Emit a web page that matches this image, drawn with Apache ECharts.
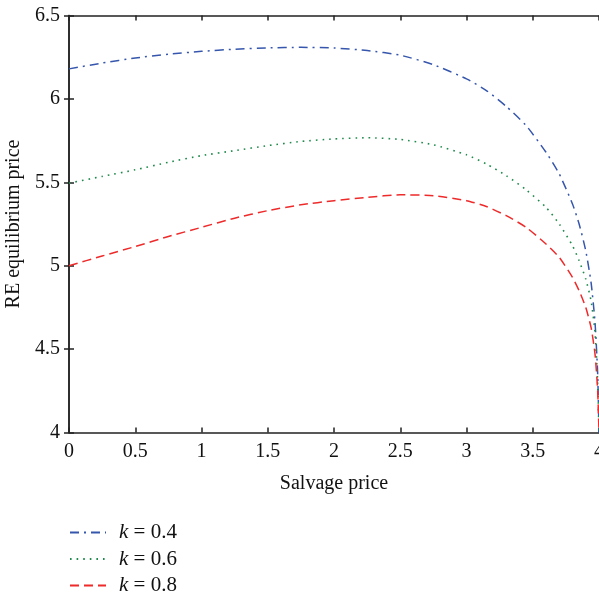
<!DOCTYPE html>
<html>
<head>
<meta charset="utf-8">
<script src="https://cdn.jsdelivr.net/npm/echarts@6/dist/echarts.min.js"></script>
<style>
html,body{margin:0;padding:0;background:#fff;}
#chart{width:599px;height:594px;}
</style>
</head>
<body>
<div id="chart"></div>
<script>
const xs = [0, 0.25, 0.5, 0.75, 1, 1.25, 1.5, 1.75, 2, 2.25, 2.5, 2.75, 3, 3.15, 3.3, 3.45, 3.6, 3.7, 3.8, 3.85, 3.9, 3.94, 3.97, 3.99, 4];
const k04 = [6.18, 6.215, 6.245, 6.268, 6.285, 6.298, 6.306, 6.309, 6.305, 6.29, 6.262, 6.205, 6.12, 6.05, 5.955, 5.84, 5.68, 5.55, 5.37, 5.25, 5.09, 4.9, 4.66, 4.35, 4.0];
const k06 = [5.495, 5.535, 5.575, 5.62, 5.66, 5.69, 5.72, 5.745, 5.76, 5.767, 5.757, 5.725, 5.665, 5.61, 5.54, 5.455, 5.35, 5.25, 5.12, 5.03, 4.92, 4.79, 4.6, 4.3, 4.0];
const k08 = [5.0, 5.058, 5.115, 5.175, 5.23, 5.285, 5.33, 5.365, 5.39, 5.41, 5.425, 5.42, 5.39, 5.355, 5.3, 5.23, 5.13, 5.05, 4.93, 4.85, 4.75, 4.63, 4.47, 4.25, 4.0];
const seriesNames = ['k = 0.4', 'k = 0.6', 'k = 0.8'];
const xTicks = ['0', '0.5', '1', '1.5', '2', '2.5', '3', '3.5', '4'];
const yTicks = ['4', '4.5', '5', '5.5', '6', '6.5'];

const FONT = '"Liberation Serif", "DejaVu Serif", serif';
const pairs = (ys) => xs.map((x, i) => [x, ys[i]]);

const chart = echarts.init(document.getElementById('chart'));
const axisLine = { show: true, lineStyle: { color: '#222', width: 1.5 } };
const tick = { show: true, inside: true, length: 5, lineStyle: { color: '#222', width: 1.5 } };
chart.setOption({
  animation: false,
  backgroundColor: '#fff',
  grid: { left: 69, right: 0, top: 15.5, bottom: 161.5, containLabel: false, outerBoundsMode: 'none' },
  legend: {
    orient: 'vertical', left: 69, top: 522, height: 100, padding: 0, itemGap: 5.5, itemWidth: 36, itemHeight: 14,
    data: seriesNames,
    itemStyle: { opacity: 0 },
    formatter: (n) => '{i|k} = ' + n.split('= ')[1],
    textStyle: { fontFamily: FONT, fontSize: 21, color: '#111', lineHeight: 20, padding: [0, 0, 0, 8],
      rich: { i: { fontFamily: FONT, fontStyle: 'italic', fontSize: 21, color: '#111', lineHeight: 20 } } }
  },
  xAxis: [{
    type: 'value', min: 0, max: 4, interval: 0.5,
    name: 'Salvage price', nameLocation: 'middle', nameGap: 41,
    nameTextStyle: { fontFamily: FONT, fontSize: 20, color: '#111' },
    axisLine, axisTick: tick, splitLine: { show: false },
    axisLabel: { fontFamily: FONT, fontSize: 20, color: '#111', margin: 9,
      formatter: (v) => xTicks[Math.round(v * 2)] }
  }, {
    type: 'value', min: 0, max: 4, interval: 0.5, position: 'top',
    axisLine, axisTick: tick, splitLine: { show: false }, axisLabel: { show: false }
  }],
  yAxis: [{
    type: 'value', min: 4, max: 6.5, interval: 0.5,
    name: 'RE equilibrium price', nameLocation: 'middle', nameGap: 45,
    nameTextStyle: { fontFamily: FONT, fontSize: 20, color: '#111' },
    axisLine, axisTick: tick, splitLine: { show: false },
    axisLabel: { fontFamily: FONT, fontSize: 20, color: '#111', margin: 9,
      formatter: (v) => yTicks[Math.round((v - 4) * 2)] }
  }, {
    type: 'value', min: 4, max: 6.5, interval: 0.5, position: 'right',
    axisLine, axisTick: tick, splitLine: { show: false }, axisLabel: { show: false }
  }],
  series: [
    { name: seriesNames[0], type: 'line', data: pairs(k04), showSymbol: false, symbol: 'none',
      smooth: 0.2, color: '#3556ac',
      lineStyle: { color: '#3556ac', width: 1.5, type: [9, 5, 2, 5] } },
    { name: seriesNames[1], type: 'line', data: pairs(k06), showSymbol: false, symbol: 'none',
      smooth: 0.2, color: '#1f8a4c',
      lineStyle: { color: '#1f8a4c', width: 1.6, type: [1.6, 5] } },
    { name: seriesNames[2], type: 'line', data: pairs(k08), showSymbol: false, symbol: 'none',
      smooth: 0.2, color: '#ee2a2a',
      lineStyle: { color: '#ee2a2a', width: 1.5, type: [9, 5] } }
  ]
});
</script>
</body>
</html>
